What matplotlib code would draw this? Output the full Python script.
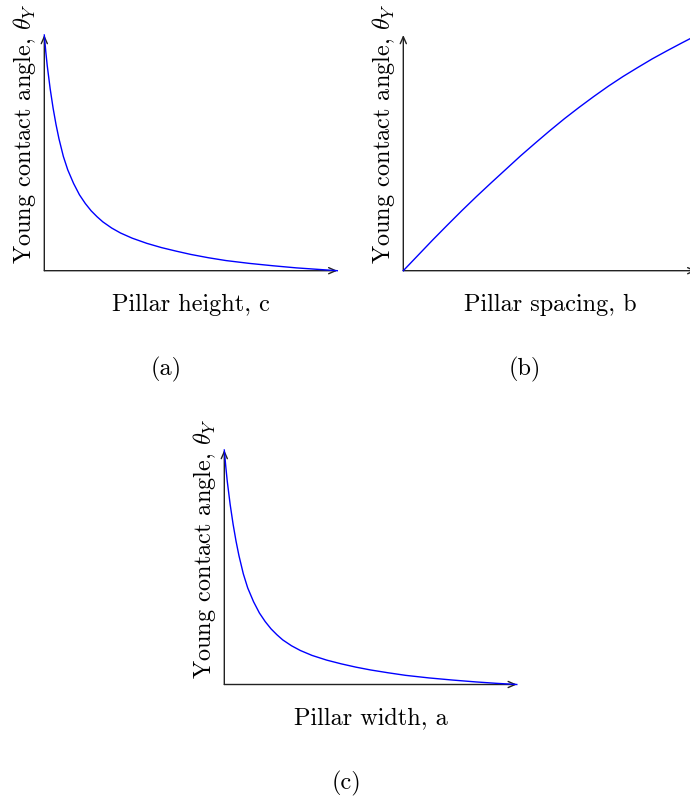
import matplotlib
matplotlib.use('Agg')
import matplotlib.pyplot as plt

plt.rcParams['font.family'] = ['cmr10', 'DejaVu Serif']
plt.rcParams['mathtext.fontset'] = 'cm'
plt.rcParams['axes.formatter.use_mathtext'] = True

# curves, both axes normalised to 0..1
height_x = [0, 0.005, 0.01, 0.02, 0.03, 0.04, 0.05, 0.065, 0.08, 0.10, 0.12, 0.14, 0.16,
            0.18, 0.20, 0.23, 0.26, 0.30, 0.35, 0.40, 0.45, 0.50, 0.56, 0.62, 0.70, 0.78,
            0.86, 0.93, 1.0]
height_y = [1.0, 0.93, 0.87, 0.772, 0.690, 0.620, 0.560, 0.485, 0.428, 0.370, 0.322, 0.285,
            0.254, 0.229, 0.207, 0.181, 0.160, 0.138, 0.116, 0.098, 0.083, 0.069, 0.055,
            0.043, 0.031, 0.021, 0.012, 0.006, 0.0]

spacing_x = [0, 0.05, 0.1, 0.15, 0.2, 0.25, 0.3, 0.35, 0.4, 0.45, 0.5, 0.55, 0.6, 0.65,
             0.7, 0.75, 0.8, 0.85, 0.9, 0.95, 1.0]
spacing_y = [0, 0.065, 0.130, 0.193, 0.255, 0.315, 0.373, 0.430, 0.487, 0.541, 0.594,
             0.645, 0.693, 0.739, 0.783, 0.824, 0.862, 0.899, 0.933, 0.966, 0.998]

width_x = [0, 0.005, 0.01, 0.02, 0.03, 0.04, 0.05, 0.065, 0.08, 0.10, 0.12, 0.14, 0.16,
           0.18, 0.20, 0.23, 0.26, 0.30, 0.35, 0.40, 0.45, 0.50, 0.56, 0.62, 0.70, 0.78,
           0.86, 0.93, 1.0]
width_y = [1.0, 0.93, 0.868, 0.768, 0.684, 0.612, 0.550, 0.472, 0.412, 0.353, 0.305, 0.268,
           0.237, 0.212, 0.190, 0.165, 0.145, 0.124, 0.104, 0.088, 0.074, 0.062, 0.050,
           0.039, 0.028, 0.019, 0.011, 0.005, 0.0]

xlabels = ['Pillar height, c', 'Pillar spacing, b', 'Pillar width, a']
captions = ['(a)', '(b)', '(c)']
ylabel = r'Young contact angle, $\theta_Y$'

W, H = 690, 799
fig = plt.figure(figsize=(W / 100, H / 100), dpi=100)

# axes boxes in pixels: left, bottom(from top), width, height
boxes = [(44.3, 270.7, 293, 235.7),
         (403.3, 270.7, 293, 235.7),
         (224.3, 684.5, 292.5, 234.5)]
series = [(height_x, height_y), (spacing_x, spacing_y), (width_x, width_y)]
ylab_center = [134, 134, 549]

fs = 17.5
for i in range(3):
    l, b, w, h = boxes[i]
    ax = fig.add_axes([l / W, (H - b) / H, w / W, h / H])
    ax.set_xlim(0, 1)
    ax.set_ylim(0, 1)
    ax.axis('off')
    ap = dict(arrowstyle='->, head_length=0.5, head_width=0.22', lw=1.0, color='#222222',
              shrinkA=0, shrinkB=0)
    ax.annotate('', xy=(1, 0), xytext=(0, 0), xycoords='axes fraction', arrowprops=ap,
                annotation_clip=False)
    ax.annotate('', xy=(0, 1), xytext=(0, 0), xycoords='axes fraction', arrowprops=ap,
                annotation_clip=False)
    xs, ys = series[i]
    ax.plot(xs, ys, color='#0000ff', lw=1.0, clip_on=False, zorder=3)

    ax.text(0.5, -34 / h, xlabels[i], transform=ax.transAxes, ha='center', va='center',
            fontsize=fs)
    ax.text(-19.5 / w, (b - ylab_center[i]) / h, ylabel, transform=ax.transAxes,
            rotation=90, ha='center', va='center', fontsize=fs)

fig.text(166 / W, 1 - 369 / H, captions[0], ha='center', va='center', fontsize=fs)
fig.text(525 / W, 1 - 369 / H, captions[1], ha='center', va='center', fontsize=fs)
fig.text(346 / W, 1 - 783 / H, captions[2], ha='center', va='center', fontsize=fs)

fig.savefig('out.png', dpi=100)
